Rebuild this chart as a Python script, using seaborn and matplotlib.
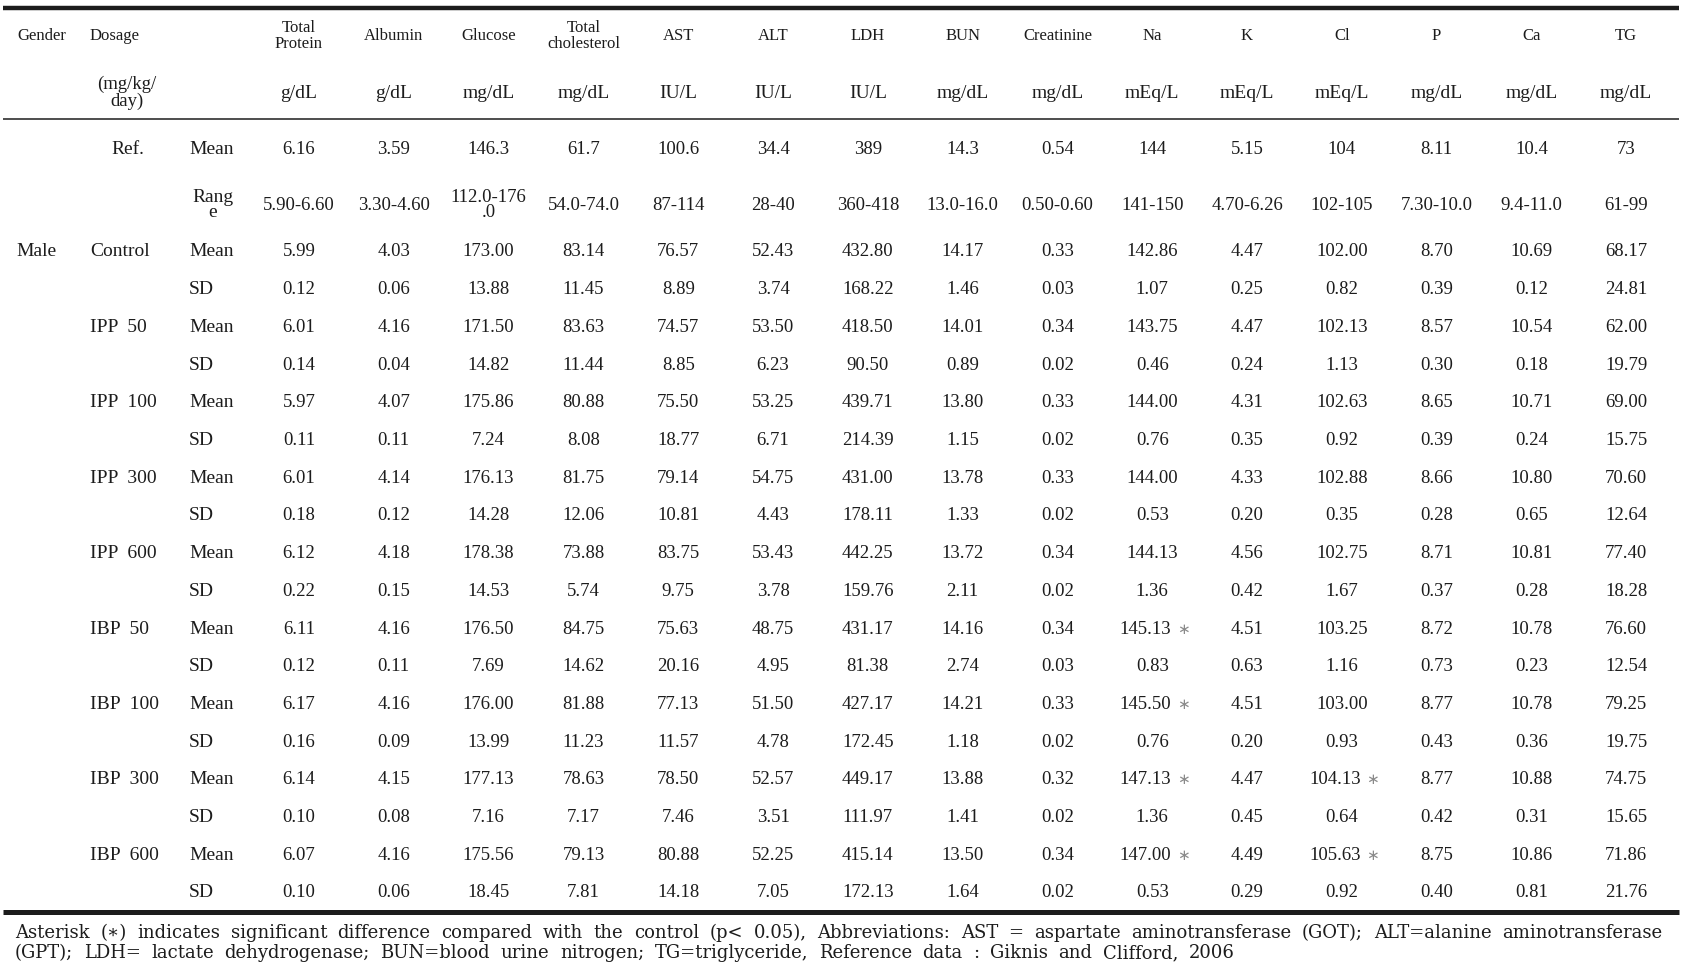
import numpy as np
import pandas as pd
import matplotlib
matplotlib.use("Agg")
import matplotlib.pyplot as plt
from matplotlib.colors import ListedColormap
import seaborn as sns

# column headers
analytes = ["Total\nProtein", "Albumin", "Glucose", "Total\ncholesterol", "AST", "ALT", "LDH", "BUN",
            "Creatinine", "Na", "K", "Cl", "P", "Ca", "TG"]
units = ["g/dL", "g/dL", "mg/dL", "mg/dL", "IU/L", "IU/L", "IU/L", "mg/dL", "mg/dL",
         "mEq/L", "mEq/L", "mEq/L", "mg/dL", "mg/dL", "mg/dL"]

# reference data (Giknis and Clifford, 2006)
ref_mean = ["6.16", "3.59", "146.3", "61.7", "100.6", "34.4", "389", "14.3", "0.54",
            "144", "5.15", "104", "8.11", "10.4", "73"]
ref_range = ["5.90-6.60", "3.30-4.60", "112.0-176\n.0", "54.0-74.0", "87-114", "28-40", "360-418",
             "13.0-16.0", "0.50-0.60", "141-150", "4.70-6.26", "102-105", "7.30-10.0", "9.4-11.0", "61-99"]

groups = ["Control", "IPP  50", "IPP  100", "IPP  300", "IPP  600",
          "IBP  50", "IBP  100", "IBP  300", "IBP  600"]

control_mean = [5.99, 4.03, 173.00, 83.14, 76.57, 52.43, 432.80, 14.17, 0.33, 142.86, 4.47, 102.00, 8.70, 10.69, 68.17]
control_sd = [0.12, 0.06, 13.88, 11.45, 8.89, 3.74, 168.22, 1.46, 0.03, 1.07, 0.25, 0.82, 0.39, 0.12, 24.81]
ipp50_mean = [6.01, 4.16, 171.50, 83.63, 74.57, 53.50, 418.50, 14.01, 0.34, 143.75, 4.47, 102.13, 8.57, 10.54, 62.00]
ipp50_sd = [0.14, 0.04, 14.82, 11.44, 8.85, 6.23, 90.50, 0.89, 0.02, 0.46, 0.24, 1.13, 0.30, 0.18, 19.79]
ipp100_mean = [5.97, 4.07, 175.86, 80.88, 75.50, 53.25, 439.71, 13.80, 0.33, 144.00, 4.31, 102.63, 8.65, 10.71, 69.00]
ipp100_sd = [0.11, 0.11, 7.24, 8.08, 18.77, 6.71, 214.39, 1.15, 0.02, 0.76, 0.35, 0.92, 0.39, 0.24, 15.75]
ipp300_mean = [6.01, 4.14, 176.13, 81.75, 79.14, 54.75, 431.00, 13.78, 0.33, 144.00, 4.33, 102.88, 8.66, 10.80, 70.60]
ipp300_sd = [0.18, 0.12, 14.28, 12.06, 10.81, 4.43, 178.11, 1.33, 0.02, 0.53, 0.20, 0.35, 0.28, 0.65, 12.64]
ipp600_mean = [6.12, 4.18, 178.38, 73.88, 83.75, 53.43, 442.25, 13.72, 0.34, 144.13, 4.56, 102.75, 8.71, 10.81, 77.40]
ipp600_sd = [0.22, 0.15, 14.53, 5.74, 9.75, 3.78, 159.76, 2.11, 0.02, 1.36, 0.42, 1.67, 0.37, 0.28, 18.28]
ibp50_mean = [6.11, 4.16, 176.50, 84.75, 75.63, 48.75, 431.17, 14.16, 0.34, 145.13, 4.51, 103.25, 8.72, 10.78, 76.60]
ibp50_sd = [0.12, 0.11, 7.69, 14.62, 20.16, 4.95, 81.38, 2.74, 0.03, 0.83, 0.63, 1.16, 0.73, 0.23, 12.54]
ibp100_mean = [6.17, 4.16, 176.00, 81.88, 77.13, 51.50, 427.17, 14.21, 0.33, 145.50, 4.51, 103.00, 8.77, 10.78, 79.25]
ibp100_sd = [0.16, 0.09, 13.99, 11.23, 11.57, 4.78, 172.45, 1.18, 0.02, 0.76, 0.20, 0.93, 0.43, 0.36, 19.75]
ibp300_mean = [6.14, 4.15, 177.13, 78.63, 78.50, 52.57, 449.17, 13.88, 0.32, 147.13, 4.47, 104.13, 8.77, 10.88, 74.75]
ibp300_sd = [0.10, 0.08, 7.16, 7.17, 7.46, 3.51, 111.97, 1.41, 0.02, 1.36, 0.45, 0.64, 0.42, 0.31, 15.65]
ibp600_mean = [6.07, 4.16, 175.56, 79.13, 80.88, 52.25, 415.14, 13.50, 0.34, 147.00, 4.49, 105.63, 8.75, 10.86, 71.86]
ibp600_sd = [0.10, 0.06, 18.45, 7.81, 14.18, 7.05, 172.13, 1.64, 0.02, 0.53, 0.29, 0.92, 0.40, 0.81, 21.76]

# significant difference vs control (p<0.05): (group, analyte)
significant = [("IBP  50", "Na"), ("IBP  100", "Na"), ("IBP  300", "Na"), ("IBP  300", "Cl"),
               ("IBP  600", "Na"), ("IBP  600", "Cl")]

note1 = ("Asterisk (\u2217) indicates significant difference compared with the control (p< 0.05), "
         "Abbreviations: AST = aspartate aminotransferase (GOT); ALT=alanine aminotransferase")
note2 = ("(GPT); LDH= lactate dehydrogenase; BUN=blood urine nitrogen; TG=triglyceride, "
         "Reference data : Giknis and Clifford, 2006")

sns.set_theme(style="white")
plt.rcParams["font.family"] = ["Liberation Serif", "DejaVu Serif"]
ink = "#1c1c1c"

means = [control_mean, ipp50_mean, ipp100_mean, ipp300_mean, ipp600_mean,
         ibp50_mean, ibp100_mean, ibp300_mean, ibp600_mean]
sds = [control_sd, ipp50_sd, ipp100_sd, ipp300_sd, ipp600_sd,
       ibp50_sd, ibp100_sd, ibp300_sd, ibp600_sd]
short = [a.replace("\n", " ") for a in analytes]

rows = []
for m, s in zip(means, sds):
    rows.append(m)
    rows.append(s)
body = pd.DataFrame(rows, columns=short)
annot = body.map(lambda v: f"{v:.2f}")

# pixel -> data mapping (cell centres)
col_w, row_h = 94.8, 37.7
def dx(px):
    return 0.5 + (px - 299) / col_w
def dy(px):
    return 0.5 + (px - 252) / row_h

fig = plt.figure(figsize=(17.07, 9.78), dpi=100)
ax = fig.add_axes([0, 0, 1, 1])
sns.heatmap(body, annot=annot.values, fmt="", cmap=ListedColormap(["white"]), cbar=False,
            xticklabels=False, yticklabels=False, ax=ax,
            annot_kws=dict(fontsize=13.5, color=ink))
ax.set_xlim(dx(0), dx(1707))
ax.set_ylim(dy(978), dy(0))
ax.axis("off")

# significant cells: value nudged left, small grey asterisk after it
cell_texts = list(ax.texts)
ncol = body.shape[1]
for g, a in significant:
    r, c = 2 * groups.index(g), short.index(a)
    t = cell_texts[r * ncol + c]
    t.set_x(c + 0.5 - 7 / col_w)
    ax.text(c + 0.5 + 31 / col_w, r + 0.5, "\u2217", fontsize=11, color="#8a8a8a",
            ha="center", va="center", family="DejaVu Sans")

# rules
ax.hlines(dy(8.5), dx(3), dx(1679), lw=3.2, color=ink, zorder=5)
ax.hlines(dy(120), dx(3), dx(1679), lw=1.1, color=ink, zorder=5)
ax.hlines(dy(912.5), dx(3), dx(1679), lw=3.6, color=ink, zorder=5)

# header
ax.text(dx(17), dy(36), "Gender", fontsize=12, color=ink, ha="left", va="center")
ax.text(dx(90), dy(36), "Dosage", fontsize=12, color=ink, ha="left", va="center")
ax.text(dx(127), dy(93), "(mg/kg/\nday)", fontsize=13.5, color=ink, ha="center", va="center",
        linespacing=0.95)
for j, (a, u) in enumerate(zip(analytes, units)):
    ax.text(j + 0.5, dy(36), a, fontsize=12, color=ink, ha="center", va="center", linespacing=0.95)
    ax.text(j + 0.5, dy(93), u, fontsize=14, color=ink, ha="center", va="center")

# reference rows
ax.text(dx(128), dy(149), "Ref.", fontsize=14, color=ink, ha="center", va="center")
ax.text(dx(189), dy(149), "Mean", fontsize=14, color=ink, ha="left", va="center")
ax.text(dx(213), dy(205), "Rang\ne", fontsize=14, color=ink, ha="center", va="center", linespacing=0.9)
for j, (m, r) in enumerate(zip(ref_mean, ref_range)):
    ax.text(j + 0.5, dy(149), m, fontsize=13.5, color=ink, ha="center", va="center")
    ax.text(j + 0.5, dy(205), r, fontsize=13.5, color=ink, ha="center", va="center", linespacing=0.9)

# row labels
ax.text(dx(16), 0.5, "Male", fontsize=14, color=ink, ha="left", va="center")
for i, g in enumerate(groups):
    ax.text(dx(90), 2 * i + 0.5, g, fontsize=14, color=ink, ha="left", va="center")
    ax.text(dx(189), 2 * i + 0.5, "Mean", fontsize=14, color=ink, ha="left", va="center")
    ax.text(dx(189), 2 * i + 1.5, "SD", fontsize=14, color=ink, ha="left", va="center")

# footnote: first line justified, second line with the same word gap
note_font = dict(fontsize=13, family="DejaVu Serif")
fig.canvas.draw()
rend = fig.canvas.get_renderer()
def word_widths(line):
    ws = []
    for w in line.split(" "):
        t = ax.text(0, 0, w, **note_font)
        ws.append(t.get_window_extent(rend).width)
        t.remove()
    return ws
w1 = word_widths(note1)
gap = (1662 - 15 - sum(w1)) / (len(w1) - 1)
for line, ypx in [(note1, 933), (note2, 953)]:
    x = 15
    for w, wd in zip(line.split(" "), word_widths(line)):
        ax.text(dx(x), dy(ypx), w, color=ink, ha="left", va="center", **note_font)
        x += wd + gap

fig.savefig("out.png", dpi=100)
